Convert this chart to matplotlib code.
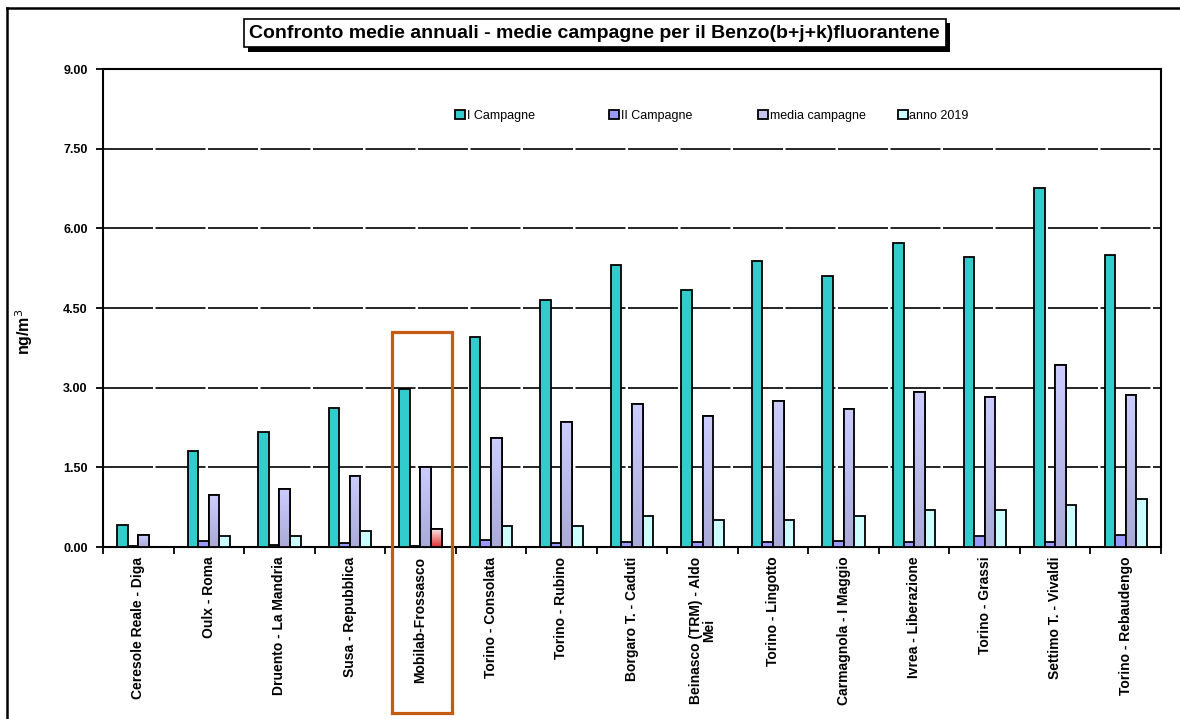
import numpy as np
import matplotlib
matplotlib.use("Agg")
import matplotlib.pyplot as plt
import matplotlib.patheffects as pe
from matplotlib.patches import Rectangle
from matplotlib.lines import Line2D
from matplotlib.legend import Legend
from matplotlib.colors import LinearSegmentedColormap
from matplotlib.transforms import blended_transform_factory

plt.rcParams['font.family'] = ['Liberation Sans', 'DejaVu Sans']

# dati (ng/m3)
stazioni = ['Ceresole Reale - Diga', 'Oulx - Roma', 'Druento - La Mandria',
            'Susa - Repubblica', 'Mobilab-Frossasco', 'Torino - Consolata',
            'Torino - Rubino', 'Borgaro T. - Caduti', 'Beinasco (TRM) - Aldo\nMei',
            'Torino - Lingotto', 'Carmagnola - I Maggio', 'Ivrea - Liberazione',
            'Torino - Grassi', 'Settimo T. - Vivaldi', 'Torino - Rebaudengo']
campagna_1 = [0.41, 1.81, 2.16, 2.62, 2.98, 3.95, 4.65, 5.31, 4.84, 5.39, 5.10, 5.72, 5.46, 6.76, 5.49]
campagna_2 = [0.02, 0.12, 0.04, 0.07, 0.02, 0.14, 0.07, 0.09, 0.09, 0.09, 0.12, 0.09, 0.20, 0.09, 0.23]
media_camp = [0.22, 0.97, 1.09, 1.34, 1.51, 2.05, 2.36, 2.70, 2.46, 2.74, 2.60, 2.91, 2.82, 3.42, 2.86]
anno_2019 = [np.nan, 0.20, 0.20, 0.30, 0.33, 0.40, 0.40, 0.59, 0.50, 0.50, 0.59, 0.69, 0.69, 0.80, 0.90]
y_ticks = [0, 1.5, 3, 4.5, 6, 7.5, 9]

fig = plt.figure(figsize=(11.8, 7.19), dpi=100)
ax = fig.add_axes([0.0873, 0.2392, 0.8966, 0.6648])

x = np.arange(len(stazioni))
w = 0.15
b1 = ax.bar(x - 1.5 * w, campagna_1, w, color='#33CCCC', edgecolor='black', lw=1.3, label='I Campagne', zorder=3)
b2 = ax.bar(x - 0.5 * w, campagna_2, w, color='#9999FF', edgecolor='black', lw=1.3, label='II Campagne', zorder=3)
b3 = ax.bar(x + 0.5 * w, media_camp, w, color='#C4C4EE', edgecolor='black', lw=1.3, label='media campagne', zorder=3)
b4 = ax.bar(x + 1.5 * w, anno_2019, w, color='#CCFFFF', edgecolor='black', lw=1.3, label='anno 2019', zorder=3)

# sfumatura delle barre media campagne
grad = np.linspace(0, 1, 100).reshape(-1, 1)
cm_media = LinearSegmentedColormap.from_list('m', ['#CCCCFF', '#AAAAD8'])
cm_red = LinearSegmentedColormap.from_list('r', ['#F6E6E6', '#E03030'])
for p in b3:
    x0, y0 = p.get_x(), p.get_y()
    im = ax.imshow(grad, cmap=cm_media, aspect='auto', zorder=3.5,
                   extent=[x0, x0 + p.get_width(), y0, y0 + p.get_height()], origin='upper')
    im.set_clip_path(p)
p = b4[4]
im = ax.imshow(grad, cmap=cm_red, aspect='auto', zorder=3.5,
               extent=[p.get_x(), p.get_x() + p.get_width(), 0, p.get_height()], origin='upper')
im.set_clip_path(p)
for p in list(b3) + [b4[4]]:
    ax.add_patch(Rectangle((p.get_x(), p.get_y()), p.get_width(), p.get_height(),
                           fill=False, edgecolor='black', lw=1.3, zorder=4))

ax.set_xlim(-0.5, len(stazioni) - 0.5)
ax.set_ylim(0, 9)
ax.set_yticks(y_ticks)
ax.set_yticklabels(['%.2f' % v for v in y_ticks], fontsize=9, fontweight='bold')
for v in y_ticks[1:-1]:
    ax.axhline(v, color='black', lw=1.2, ls=(0, (30, 1.5)), zorder=1)

ax.set_xticks(x)
ax.set_xticklabels(stazioni, rotation=90, fontsize=10, fontweight='bold', va='top', ha='center', linespacing=1.0)
ax.tick_params(axis='x', length=0, pad=7)
ax.set_xticks(np.arange(len(stazioni) + 1) - 0.5, minor=True)
ax.tick_params(axis='x', which='minor', length=5, width=1.3, direction='out')
ax.tick_params(axis='y', length=5, width=1.3, direction='out', pad=6)
for s in ax.spines.values():
    s.set_linewidth(1.5)

ax.set_ylabel('ng/m$^3$', fontsize=11.5, fontweight='bold')
ax.yaxis.label.set_va('center')
ax.yaxis.set_label_coords(-0.075, 0.45)

# legenda: colonne a larghezza fissa come nell'originale
handles = [b1, b2, b3, b4]
leg_x = [0.333, 0.478, 0.619, 0.751]
for h, lx in zip(handles, leg_x):
    lg = Legend(ax, [h], [h.get_label()], loc='center left', bbox_to_anchor=(lx, 0.902), frameon=False,
                fontsize=9, handlelength=0.8, handleheight=0.8, handletextpad=0.15,
                borderpad=0, borderaxespad=0)
    ax.add_artist(lg)

# titolo con ombra
t = fig.text(0.504, 0.954, 'Confronto medie annuali - medie campagne per il Benzo(b+j+k)fluorantene',
             ha='center', va='center', fontsize=14, fontweight='bold',
             bbox=dict(boxstyle='square,pad=0.3', fc='white', ec='black', lw=1.2))
t.get_bbox_patch().set_path_effects([pe.SimplePatchShadow(offset=(3, -3), shadow_rgbFace='black', alpha=1),
                                     pe.Normal()])

# cornice esterna
fig.add_artist(Line2D([7 / 1180, 7 / 1180], [0, 1 - 8 / 719], color='black', lw=1.8, transform=fig.transFigure))
fig.add_artist(Line2D([7 / 1180, 1], [1 - 8 / 719, 1 - 8 / 719], color='black', lw=1.8, transform=fig.transFigure))

# evidenziazione Mobilab
tr = blended_transform_factory(ax.transData, fig.transFigure)
fig.add_artist(Rectangle((3.6, 1 - 713 / 719), 0.85, (713 - 332) / 719, fill=False,
                         edgecolor='#C55A11', lw=2.3, transform=tr, clip_on=False))

fig.savefig('out.png', dpi=100)
